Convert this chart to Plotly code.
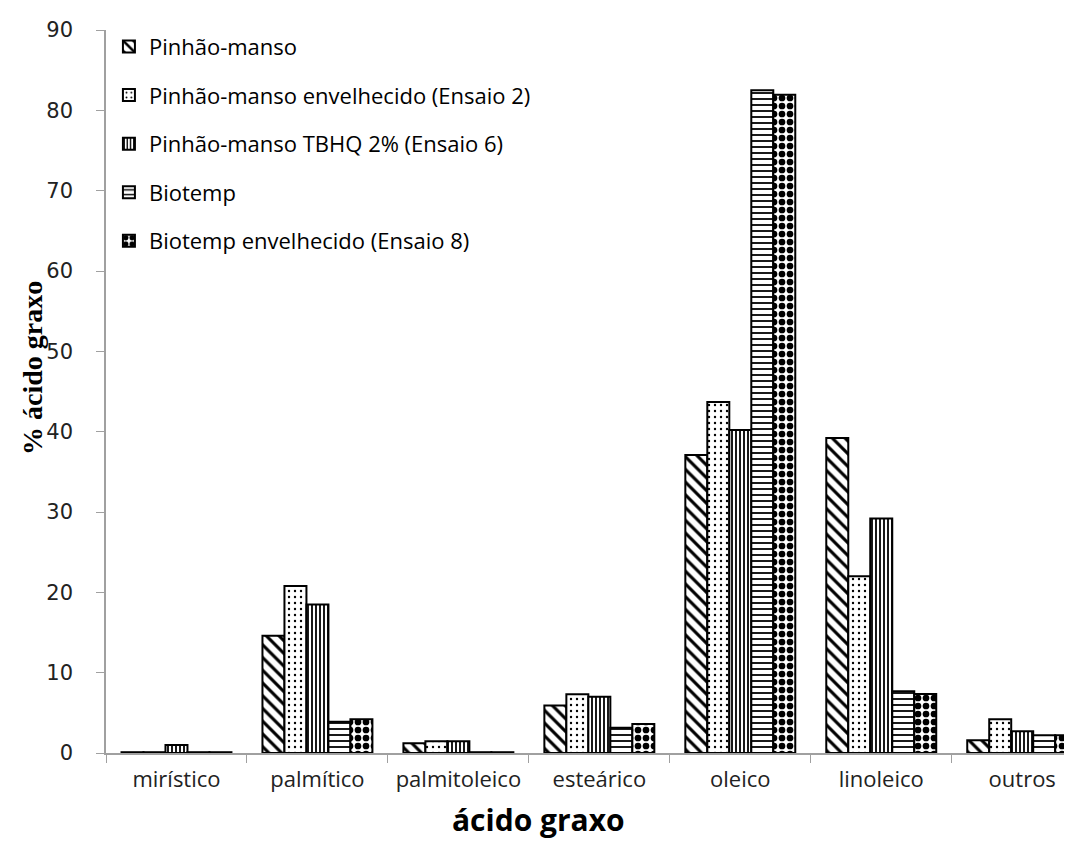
import plotly.graph_objects as go

categories = ["mirístico", "palmítico", "palmitoleico", "esteárico", "oleico", "linoleico", "outros"]
series_names = [
    "Pinhão-manso",
    "Pinhão-manso envelhecido (Ensaio 2)",
    "Pinhão-manso TBHQ 2% (Ensaio 6)",
    "Biotemp",
    "Biotemp envelhecido (Ensaio 8)",
]
pinhao = [0.1, 14.6, 1.2, 5.9, 37.1, 39.2, 1.6]
pinhao_env = [0.1, 20.8, 1.45, 7.3, 43.7, 22.0, 4.2]
pinhao_tbhq = [1.0, 18.5, 1.45, 7.0, 40.2, 29.2, 2.7]
biotemp = [0.1, 3.9, 0.1, 3.15, 82.5, 7.7, 2.2]
biotemp_env = [0.1, 4.2, 0.1, 3.6, 81.95, 7.35, 2.2]
y_ticks = [0, 10, 20, 30, 40, 50, 60, 70, 80, 90]

series_values = [pinhao, pinhao_env, pinhao_tbhq, biotemp, biotemp_env]
patterns = [
    dict(shape="\\", size=9, solidity=0.35),
    dict(shape=".", size=6, solidity=0.12),
    dict(shape="|", size=4, solidity=0.45),
    dict(shape="-", size=6, solidity=0.3),
    dict(shape=".", size=8, solidity=0.55),
]

fig = go.Figure()
for i, (name, vals, pat) in enumerate(zip(series_names, series_values, patterns)):
    fig.add_trace(go.Bar(
        x=categories, y=vals, name=name, legendgroup=f"g{i}",
        marker=dict(color="white", line=dict(color="black", width=2),
                    pattern=dict(fgcolor="black", bgcolor="white", fgopacity=1, **pat)),
    ))

fig.update_layout(
    width=1072, height=843,
    margin=dict(l=98, r=0, t=22, b=98),
    paper_bgcolor="white", plot_bgcolor="white",
    barmode="group", bargap=0.22, bargroupgap=0,
    font=dict(family="Open Sans", color="#222"),
    legend=dict(x=0.003, y=1.006, xanchor="left", yanchor="top",
                font=dict(family="Open Sans", size=22, color="black"),
                tracegroupgap=17, itemsizing="constant", bgcolor="rgba(0,0,0,0)"),
    showlegend=True,
    annotations=[
        dict(text="<b>ácido graxo</b>", xref="paper", yref="paper",
             x=(530 - 98) / 974, y=-0.092, xanchor="center", yanchor="middle",
             showarrow=False, font=dict(family="Open Sans", size=30, color="black")),
        dict(text="<b>% ácido graxo</b>", xref="paper", yref="paper",
             x=(24 - 98) / 974, y=(745 - 360) / 723, xanchor="center", yanchor="middle",
             textangle=-90, showarrow=False,
             font=dict(family="Liberation Serif", size=28, color="black")),
    ],
)
fig.update_xaxes(
    range=[-0.5, 6.41], showline=True, linecolor="#a0a0a0", linewidth=1.5,
    ticks="outside", tickson="boundaries", ticklen=8, tickcolor="#a0a0a0",
    tickfont=dict(family="Open Sans", size=22, color="#222"),
    ticklabelstandoff=6,
    showgrid=False,
)
fig.update_yaxes(
    range=[0, 90], tickvals=y_ticks, showline=True, linecolor="#a0a0a0", linewidth=1.5,
    ticks="outside", ticklen=8, tickcolor="#a0a0a0",
    tickfont=dict(family="DejaVu Sans", size=21, color="#222"),
    ticklabelstandoff=19,
    showgrid=False, zeroline=False,
)
fig.write_html("out.html")
